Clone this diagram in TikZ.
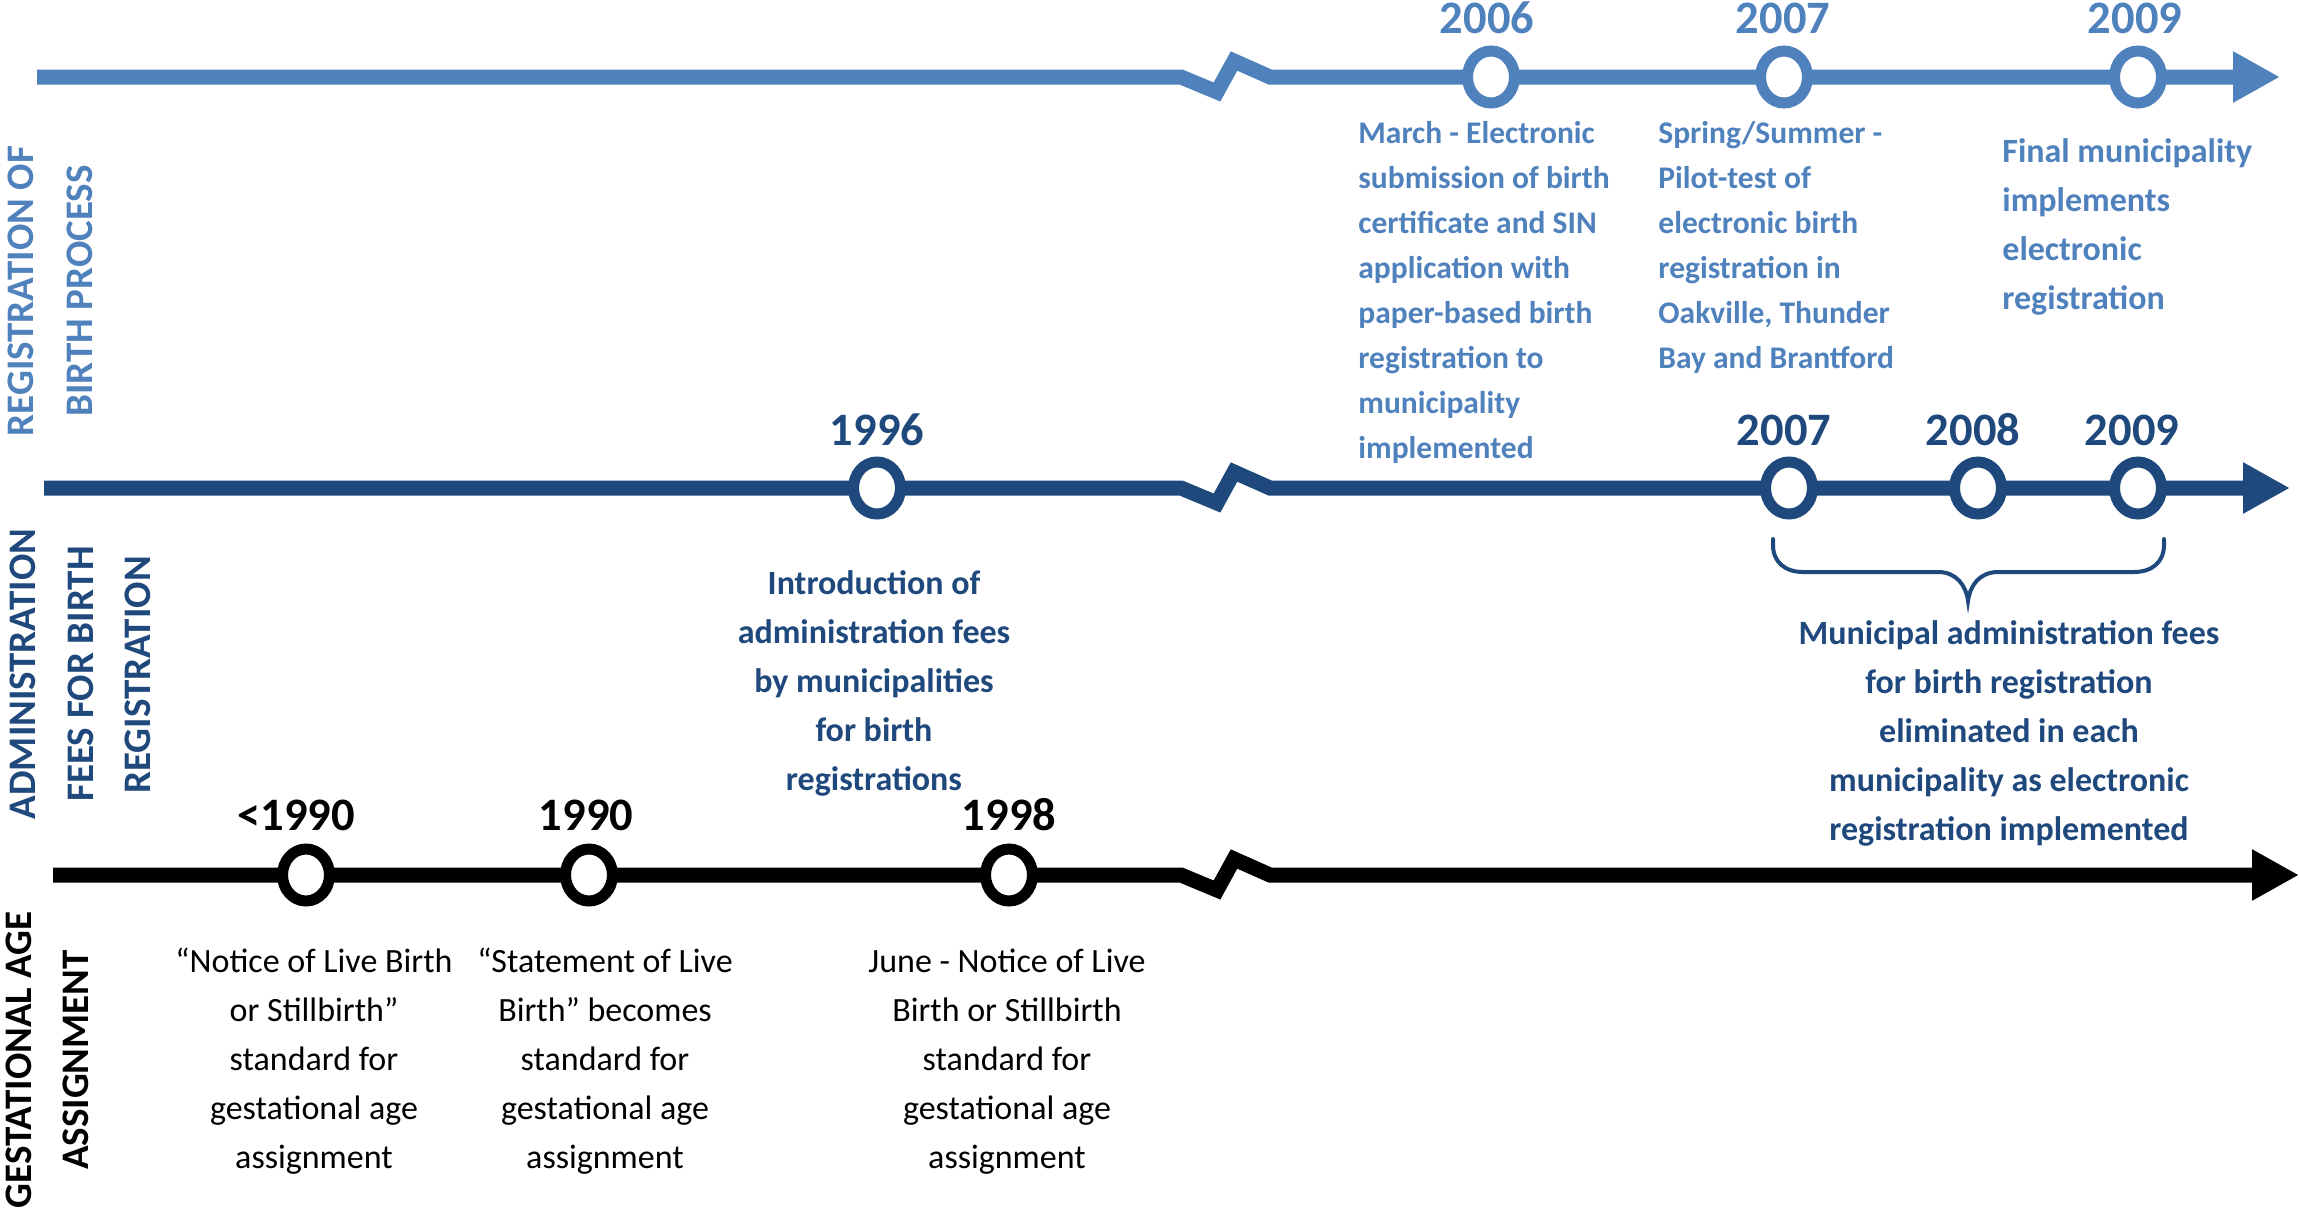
\documentclass[tikz,border=0pt]{standalone}
\usepackage{fontspec}
\setmainfont{Carlito}
\usetikzlibrary{arrows.meta,shapes.geometric}
\definecolor{lb}{HTML}{4F81BD}
\definecolor{db}{HTML}{1F497D}
\begin{document}
\begin{tikzpicture}[x=0.5pt,y=-0.5pt,
  tl/.style={line width=7.5pt,-{Triangle[length=23.5pt,width=24pt]}},
  ev/.style={ellipse,draw=#1,fill=white,line width=5.5pt,minimum width=23.5pt,minimum height=26pt,inner sep=0pt},
  yr/.style={font=\bfseries\fontsize{23.25}{28}\selectfont,inner sep=0pt,anchor=base},
  lab/.style={font=\bfseries\fontsize{19.5}{24}\selectfont,inner sep=0pt,rotate=90,anchor=base},
  smalltxt/.style={font=\bfseries\fontsize{15.75}{22.5}\selectfont,inner sep=0pt,align=left,anchor=base west},
  bodytxt/.style={font=\bfseries\fontsize{17}{24.4}\selectfont,inner sep=0pt},
  regtxt/.style={font=\fontsize{17}{24.4}\selectfont,inner sep=0pt,align=center,anchor=base}
]
\useasboundingbox[fill=white] (0,0) rectangle (2299,1217);

% timelines
\coordinate (s1) at (37,77);   \coordinate (b1) at (1181,77);  \coordinate (e1) at (2280,77);
\coordinate (s2) at (44,488);  \coordinate (b2) at (1181,488); \coordinate (e2) at (2290,488);
\coordinate (s3) at (53,875);  \coordinate (b3) at (1181,875); \coordinate (e3) at (2299,875);
\draw[tl,lb] (s1) -- (b1) -- ++(36,15) -- ++(17,-31) -- ++(36,16) -- (e1);
\draw[tl,db] (s2) -- (b2) -- ++(36,15) -- ++(17,-31) -- ++(36,16) -- (e2);
\draw[tl,black] (s3) -- (b3) -- ++(36,15) -- ++(17,-31) -- ++(36,16) -- (e3);

% events
\node[ev=lb] (c2006) at (1491,77) {};
\node[ev=lb] (c2007a) at (1784,77) {};
\node[ev=lb] (c2009a) at (2138,77) {};
\node[ev=db] (c1996) at (877,488) {};
\node[ev=db] (c2007b) at (1789,488) {};
\node[ev=db] (c2008) at (1978,488) {};
\node[ev=db] (c2009b) at (2138,488) {};
\node[ev=black] (c1989) at (306,875) {};
\node[ev=black] (c1990) at (589,875) {};
\node[ev=black] (c1998) at (1009,875) {};

% years
\node[yr,text=lb] (y2006) at (1487,33) {2006};
\node[yr,text=lb] (y2007a) at (1783,33) {2007};
\node[yr,text=lb] (y2009a) at (2135,33) {2009};
\node[yr,text=db] (y1996) at (877,445) {1996};
\node[yr,text=db] (y2007b) at (1784,445) {2007};
\node[yr,text=db] (y2008) at (1973,445) {2008};
\node[yr,text=db] (y2009b) at (2132,445) {2009};
\node[yr] (y1989) at (296,830) {<1990};
\node[yr] (y1990) at (586,830) {1990};
\node[yr] (y1998) at (1009,830) {1998};

% side labels
\node[lab,text=lb] (rl1) at (33,291) {REGISTRATION OF};
\node[lab,text=lb] (rl2) at (92,291) {BIRTH PROCESS};
\node[lab,text=db] (al1) at (35,674) {ADMINISTRATION};
\node[lab,text=db] (al2) at (93,674) {FEES FOR BIRTH};
\node[lab,text=db] (al3) at (150,675) {REGISTRATION};
\node[lab] (gl1) at (32,1060) {GESTATIONAL AGE};
\node[lab] (gl2) at (88,1060) {ASSIGNMENT};

% descriptions (anchored at the baseline of the last line)
\node[smalltxt,text=lb] (t2006) at (1358,458) {March - Electronic\\submission of birth\\certificate and SIN\\application with\\paper-based birth\\registration to\\municipality\\implemented};
\node[smalltxt,text=lb] (t2007) at (1658,368) {Spring/Summer -\\Pilot-test of\\electronic birth\\registration in\\Oakville, Thunder\\Bay and Brantford};
\node[bodytxt,text=lb,align=left,anchor=base west] (t2009) at (2002,309) {Final municipality\\implements\\electronic\\registration};
\node[bodytxt,text=db,align=center,anchor=base] (t1996) at (874,790) {Introduction of\\administration fees\\by municipalities\\for birth\\registrations};
\node[bodytxt,text=db,align=center,anchor=base] (tfees) at (2009,840) {Municipal administration fees\\for birth registration\\eliminated in each\\municipality as electronic\\registration implemented};
\node[regtxt] (t1989) at (314,1168) {“Notice of Live Birth\\or Stillbirth”\\standard for\\gestational age\\assignment};
\node[regtxt] (t1990) at (605,1168) {“Statement of Live\\Birth” becomes\\standard for\\gestational age\\assignment};
\node[regtxt] (t1998) at (1007,1168) {June - Notice of Live\\Birth or Stillbirth\\standard for\\gestational age\\assignment};

% brace
\draw[db,line width=2pt,line cap=round]
  (1773,539) -- (1773,545) .. controls (1773,562) and (1785,572) .. (1803,572)
  -- (1938,572) .. controls (1956,572) and (1966,585) .. (1968,601)
  .. controls (1970,585) and (1980,572) .. (1998,572)
  -- (2134,572) .. controls (2152,572) and (2164,562) .. (2164,545) -- (2164,539);
\end{tikzpicture}
\end{document}
